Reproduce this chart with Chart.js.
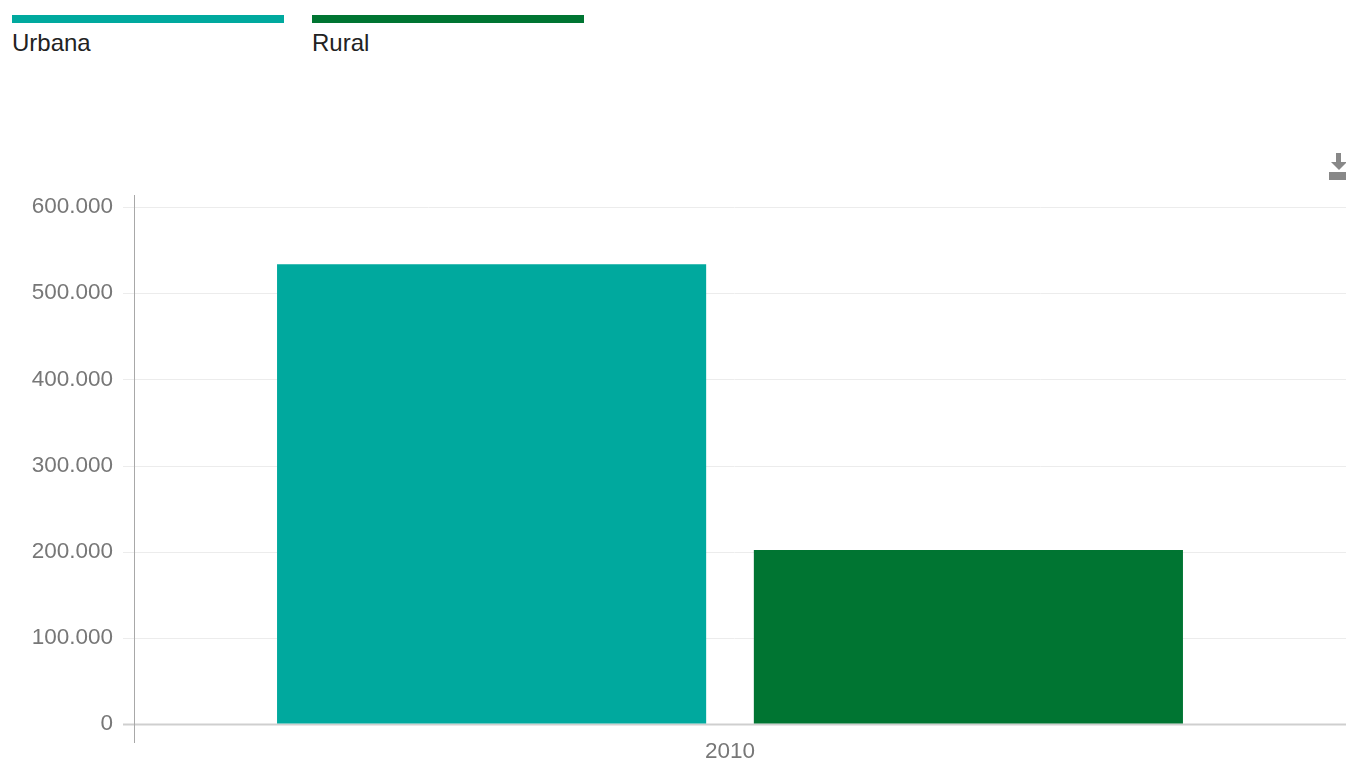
<!DOCTYPE html>
<html>
<head>
<meta charset="utf-8">
<script src="https://cdn.jsdelivr.net/npm/chart.js@4"></script>
<style>
  html, body { margin: 0; padding: 0; background: #fff; }
  body { width: 1346px; height: 763px; position: relative; overflow: hidden; font-family: "Liberation Sans", Arial, sans-serif; }
  #legend { position: absolute; top: 15px; left: 12px; display: flex; }
  .leg-item { width: 272px; margin-right: 28px; }
  .leg-bar { height: 8px; }
  .leg-text { font-size: 24px; color: #222; margin-top: 6px; line-height: 28px; }
  #wrap { position: absolute; left: 0; top: 0; width: 1346px; height: 763px; }
  .dl { position: absolute; left: 1329px; top: 153px; width: 17px; height: 27px; }
  .dl .stem { position: absolute; left: 7px; top: 0; width: 5px; height: 9px; background: #888; }
  .dl .head { position: absolute; left: 2px; top: 9px; width: 0; height: 0; border-left: 8px solid transparent; border-right: 8px solid transparent; border-top: 8px solid #888; }
  .dl .tray { position: absolute; left: 0; top: 19px; width: 17px; height: 8px; background: #888; }
</style>
</head>
<body>
<div id="legend"></div>
<div id="wrap"><canvas id="chart"></canvas></div>
<div class="dl"><div class="stem"></div><div class="head"></div><div class="tray"></div></div>
<script>
// Dados (população por situação de domicílio)
const categories = ['2010'];
const seriesNames = ['Urbana', 'Rural'];
const urbanaValues = [533500];
const ruralValues = [202000];
const seriesColors = ['#00a99e', '#007532'];
const yTicks = [0, 100000, 200000, 300000, 400000, 500000, 600000];

// legenda em HTML: barra colorida em cima do nome
const legendEl = document.getElementById('legend');
seriesNames.forEach((name, i) => {
    const item = document.createElement('div');
    item.className = 'leg-item';
    item.innerHTML = '<div class="leg-bar" style="background:' + seriesColors[i] + '"></div><div class="leg-text">' + name + '</div>';
    legendEl.appendChild(item);
});

// linhas de grade até a borda do canvas + eixo vertical prolongado
const axisExtras = {
    id: 'axisExtras',
    beforeDatasetsDraw(chart) {
        const { ctx, chartArea } = chart;
        const y = chart.scales.y;
        const tick = y.options.grid.tickLength;
        ctx.save();
        yTicks.forEach(v => {
            const py = Math.round(y.getPixelForValue(v)) + 0.5;
            ctx.strokeStyle = v === 0 ? '#cfcfcf' : '#ececec';
            ctx.lineWidth = v === 0 ? 2 : 1;
            ctx.beginPath();
            ctx.moveTo(chartArea.left - tick, py);
            ctx.lineTo(chart.width, py);
            ctx.stroke();
        });
        ctx.strokeStyle = '#a8a8a8';
        ctx.lineWidth = 1;
        const px = Math.round(chartArea.left) + 0.5;
        ctx.beginPath();
        ctx.moveTo(px, chartArea.top - 12);
        ctx.lineTo(px, chartArea.bottom + 19);
        ctx.stroke();
        ctx.restore();
    }
};

new Chart(document.getElementById('chart'), {
    type: 'bar',
    data: {
        labels: categories,
        datasets: [
            { label: seriesNames[0], data: urbanaValues, backgroundColor: seriesColors[0], borderWidth: 0 },
            { label: seriesNames[1], data: ruralValues, backgroundColor: seriesColors[1], borderWidth: 0 }
        ]
    },
    options: {
        responsive: true,
        maintainAspectRatio: false,
        animation: false,
        layout: { padding: { top: 207, right: 20, left: 0, bottom: 0 } },
        plugins: {
            legend: { display: false },
            tooltip: { enabled: false }
        },
        scales: {
            x: {
                afterFit(scale) { scale.height = 39; },
                grid: { display: false },
                border: { display: false },
                ticks: {
                    color: '#777',
                    font: { family: 'Liberation Sans', size: 22.5 },
                    padding: 6
                }
            },
            y: {
                min: 0,
                max: 600000,
                afterFit(scale) { scale.width = 134; },
                afterBuildTicks(scale) { scale.ticks = yTicks.map(v => ({ value: v })); },
                border: { display: false },
                grid: {
                    color: 'rgba(0,0,0,0)',
                    tickLength: 11
                },
                ticks: {
                    color: '#777',
                    font: { family: 'Liberation Sans', size: 22.5 },
                    padding: 10,
                    callback: v => v.toLocaleString('pt-BR')
                }
            }
        }
    },
    plugins: [axisExtras]
});
</script>
</body>
</html>
